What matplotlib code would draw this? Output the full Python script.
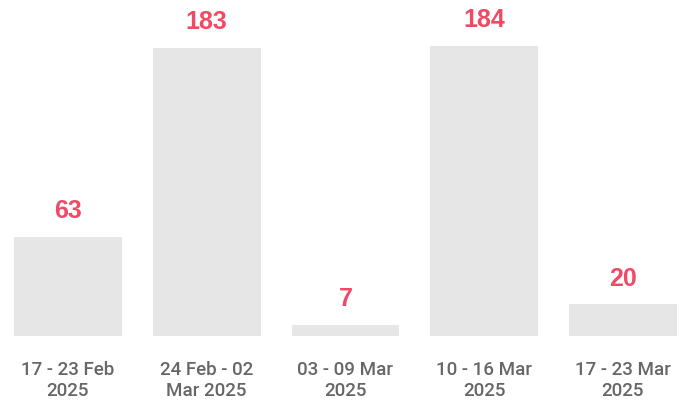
import matplotlib
matplotlib.use("Agg")
import matplotlib.pyplot as plt

weeks = ["17 - 23 Feb\n2025", "24 Feb - 02\nMar 2025", "03 - 09 Mar\n2025",
         "10 - 16 Mar\n2025", "17 - 23 Mar\n2025"]
counts = [63, 183, 7, 184, 20]

bar_color = "#e6e6e6"
label_color = "#f04a64"
tick_color = "#666666"

fig = plt.figure(figsize=(6.9, 4.01), dpi=100)
ax = fig.add_axes([0, 65 / 401, 1, 336 / 401])

x = list(range(len(counts)))
bars = ax.bar(x, counts, width=0.778, color=bar_color)
ax.set_xlim(-0.49, 4.483)
ax.set_ylim(0, 213.3)

for xi, v in zip(x, counts):
    ax.annotate(str(v), (xi, v), xytext=(0, 10), textcoords="offset points",
                ha="center", va="bottom", fontsize=18, fontweight="bold",
                color=label_color, family="Liberation Sans")

ax.set_xticks(x)
ax.set_xticklabels(weeks, fontsize=13.5, color=tick_color, family="Roboto",
                   fontweight="medium", linespacing=1.2)
ax.tick_params(axis="x", length=0, pad=18)
ax.set_yticks([])
for s in ax.spines.values():
    s.set_visible(False)

fig.savefig("out.png", dpi=100)
